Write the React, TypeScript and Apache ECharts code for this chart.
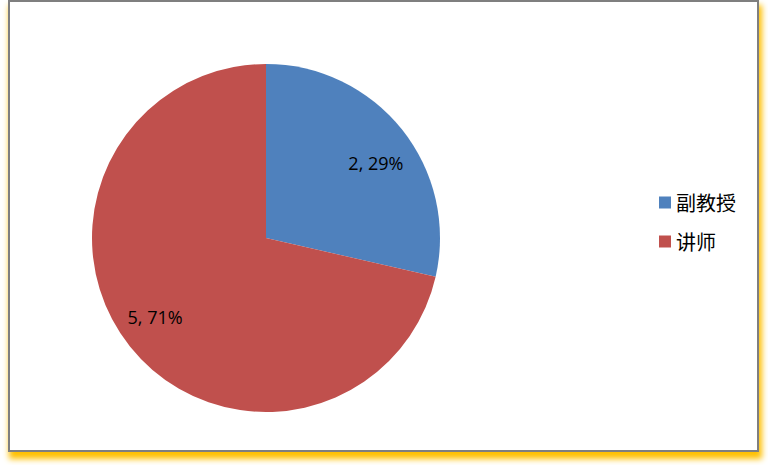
import React, { useEffect, useRef } from "react";
import * as echarts from "echarts";

// Staff composition by title
const categories = ["副教授", "讲师"];
const counts = [2, 5];
const sliceColors = ["#4f81bd", "#c0504d"];
// nudges for the value labels inside each slice
const labelOffsets = [
  [2, 11],
  [-3, -7],
];

export default function App() {
  const ref = useRef<HTMLDivElement>(null);

  useEffect(() => {
    if (!ref.current) return;
    const chart = echarts.init(ref.current, null, { renderer: "svg" });
    const data = categories.map((name, i) => ({
      name,
      value: counts[i],
      itemStyle: { color: sliceColors[i] },
    }));
    chart.setOption({
      animation: false,
      legend: {
        orient: "vertical",
        left: 659,
        top: 192,
        padding: 0,
        icon: "rect",
        itemWidth: 12,
        itemHeight: 12,
        itemGap: 18,
        data: categories,
        textStyle: {
          fontFamily: "'Noto Sans CJK SC', sans-serif",
          fontSize: 20,
          lineHeight: 21,
          color: "#000",
        },
      },
      series: [
        {
          type: "pie",
          center: [266, 238],
          radius: 174,
          startAngle: 90,
          clockwise: true,
          percentPrecision: 0,
          label: { show: false },
          labelLine: { show: false },
          emphasis: { disabled: true },
          silent: true,
          data,
        },
        {
          // transparent overlay that only carries the value labels
          type: "pie",
          center: [266, 238],
          radius: 270,
          startAngle: 90,
          clockwise: true,
          percentPrecision: 0,
          silent: true,
          emphasis: { disabled: true },
          itemStyle: { color: "rgba(0,0,0,0)" },
          label: {
            show: true,
            position: "inside",
            formatter: "{c}, {d}%",
            fontFamily: "'Open Sans', sans-serif",
            fontSize: 18,
            color: "#000",
          },
          labelLine: { show: false },
          data: data.map((d, i) => ({
            name: d.name,
            value: d.value,
            label: { offset: labelOffsets[i] },
          })),
        },
      ],
    });
    return () => chart.dispose();
  }, []);

  return (
    <div
      style={{
        position: "fixed",
        left: 0,
        top: 0,
        width: 768,
        height: 465,
        background: "#fff",
      }}
    >
      <div
        style={{
          position: "absolute",
          left: 8,
          top: 0,
          width: 747,
          height: 448,
          border: "2px solid #7f7f7f",
          background: "#fff",
          boxShadow: "2px 6px 6px 1px #ffc000",
        }}
      />
      <div
        ref={ref}
        style={{ position: "absolute", left: 0, top: 0, width: 768, height: 465 }}
      />
    </div>
  );
}
